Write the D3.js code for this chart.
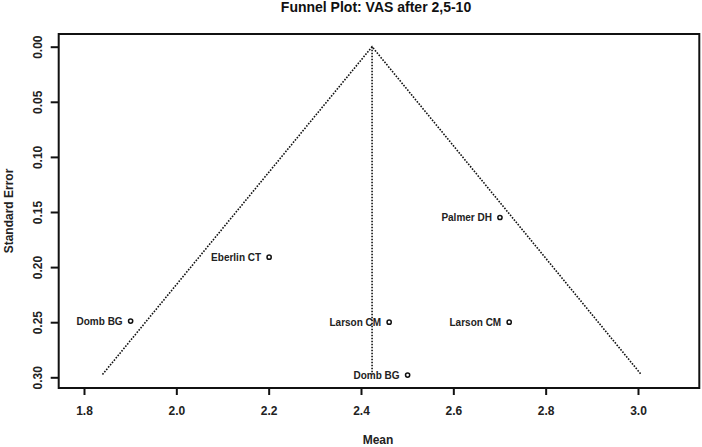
<!DOCTYPE html>
<html>
<head>
<meta charset="utf-8">
<script src="https://cdn.jsdelivr.net/npm/d3@7"></script>
<style>
  html, body { margin: 0; padding: 0; background: #fff; }
  svg { display: block; font-family: "Liberation Sans", Arial, sans-serif; }
</style>
</head>
<body>
<div id="chart"></div>
<script>
// study data
const studies = ["Domb BG", "Eberlin CT", "Larson CM", "Larson CM", "Palmer DH", "Domb BG"];
const means   = [1.901, 2.201, 2.461, 2.721, 2.701, 2.501];
const ses     = [0.249, 0.191, 0.250, 0.250, 0.155, 0.298];

// funnel: pooled mean and 95% limits at the largest SE
const pooledMean = 2.424;
const funnelX    = [1.840, 2.424, 3.007];
const funnelSE   = [0.2975, 0, 0.2975];

const xTicks = [1.8, 2.0, 2.2, 2.4, 2.6, 2.8, 3.0];
const yTicks = [0.00, 0.05, 0.10, 0.15, 0.20, 0.25, 0.30];

const W = 702, H = 447;
const m = { top: 34, right: 2.7, bottom: 59, left: 58.7 };

const svg = d3.select("#chart").append("svg")
    .attr("width", W)
    .attr("height", H);

const x = d3.scaleLinear()
    .domain([1.7452, 3.1328])
    .range([m.left, W - m.right]);

const y = d3.scaleLinear()
    .domain([-0.01152, 0.30971])
    .range([m.top, H - m.bottom]);

// axes (R style: ticks outside, box drawn separately)
const xAxis = svg.append("g")
    .attr("transform", `translate(0,${H - m.bottom})`)
    .call(d3.axisBottom(x).tickValues(xTicks).tickFormat(d3.format(".1f")).tickSize(7).tickPadding(11));
xAxis.select(".domain").remove();

const yAxis = svg.append("g")
    .attr("transform", `translate(${m.left},0)`)
    .call(d3.axisLeft(y).tickValues(yTicks).tickFormat(d3.format(".2f")).tickSize(8).tickPadding(0));
yAxis.select(".domain").remove();

svg.selectAll(".tick line").attr("stroke", "#111").attr("stroke-width", 2);
svg.selectAll(".tick text")
    .attr("fill", "#222")
    .style("font-size", "12px")
    .style("font-weight", "bold")
    .style("font-family", "'Liberation Sans', Arial, sans-serif");

// rotate y tick labels like R (las = 0)
yAxis.selectAll(".tick text")
    .attr("x", 0)
    .attr("dy", 0)
    .attr("text-anchor", "middle")
    .attr("transform", "translate(-17,0) rotate(-90)");

// plot box
svg.append("rect")
    .attr("x", m.left)
    .attr("y", m.top)
    .attr("width", W - m.left - m.right)
    .attr("height", H - m.top - m.bottom)
    .attr("fill", "none")
    .attr("stroke", "#111")
    .attr("stroke-width", 2);

// funnel lines
const funnel = d3.line()
    .x((d, i) => x(d))
    .y((d, i) => y(funnelSE[i]));

svg.append("path")
    .attr("d", funnel(funnelX))
    .attr("fill", "none")
    .attr("stroke", "#111")
    .attr("stroke-width", 1.6)
    .attr("stroke-dasharray", "1.6,1.4");

svg.append("line")
    .attr("x1", x(pooledMean))
    .attr("x2", x(pooledMean))
    .attr("y1", y(0))
    .attr("y2", y(d3.max(funnelSE)))
    .attr("stroke", "#111")
    .attr("stroke-width", 1.6)
    .attr("stroke-dasharray", "1.6,1.4");

// points + labels
const pts = svg.selectAll("g.study")
  .data(studies.map((s, i) => ({ name: s, mean: means[i], se: ses[i] })))
  .join("g")
    .attr("class", "study")
    .attr("transform", d => `translate(${x(d.mean)},${y(d.se)})`);

pts.append("circle")
    .attr("r", 2.1)
    .attr("fill", "none")
    .attr("stroke", "#111")
    .attr("stroke-width", 1.5);

pts.append("text")
    .attr("x", -8)
    .attr("dy", "0.36em")
    .attr("text-anchor", "end")
    .style("font-size", "10px")
    .style("font-weight", "bold")
    .attr("fill", "#222")
    .text(d => d.name);

// titles
svg.append("text")
    .attr("x", 376)
    .attr("y", 12)
    .attr("text-anchor", "middle")
    .style("font-size", "14px")
    .style("font-weight", "bold")
    .attr("fill", "#111")
    .text("Funnel Plot: VAS after 2,5-10");

svg.append("text")
    .attr("x", 378)
    .attr("y", 444)
    .attr("text-anchor", "middle")
    .style("font-size", "12px")
    .style("font-weight", "bold")
    .attr("fill", "#222")
    .text("Mean");

svg.append("text")
    .attr("transform", `translate(13,${(m.top + H - m.bottom) / 2}) rotate(-90)`)
    .attr("text-anchor", "middle")
    .style("font-size", "12px")
    .style("font-weight", "bold")
    .attr("fill", "#222")
    .text("Standard Error");
</script>
</body>
</html>
